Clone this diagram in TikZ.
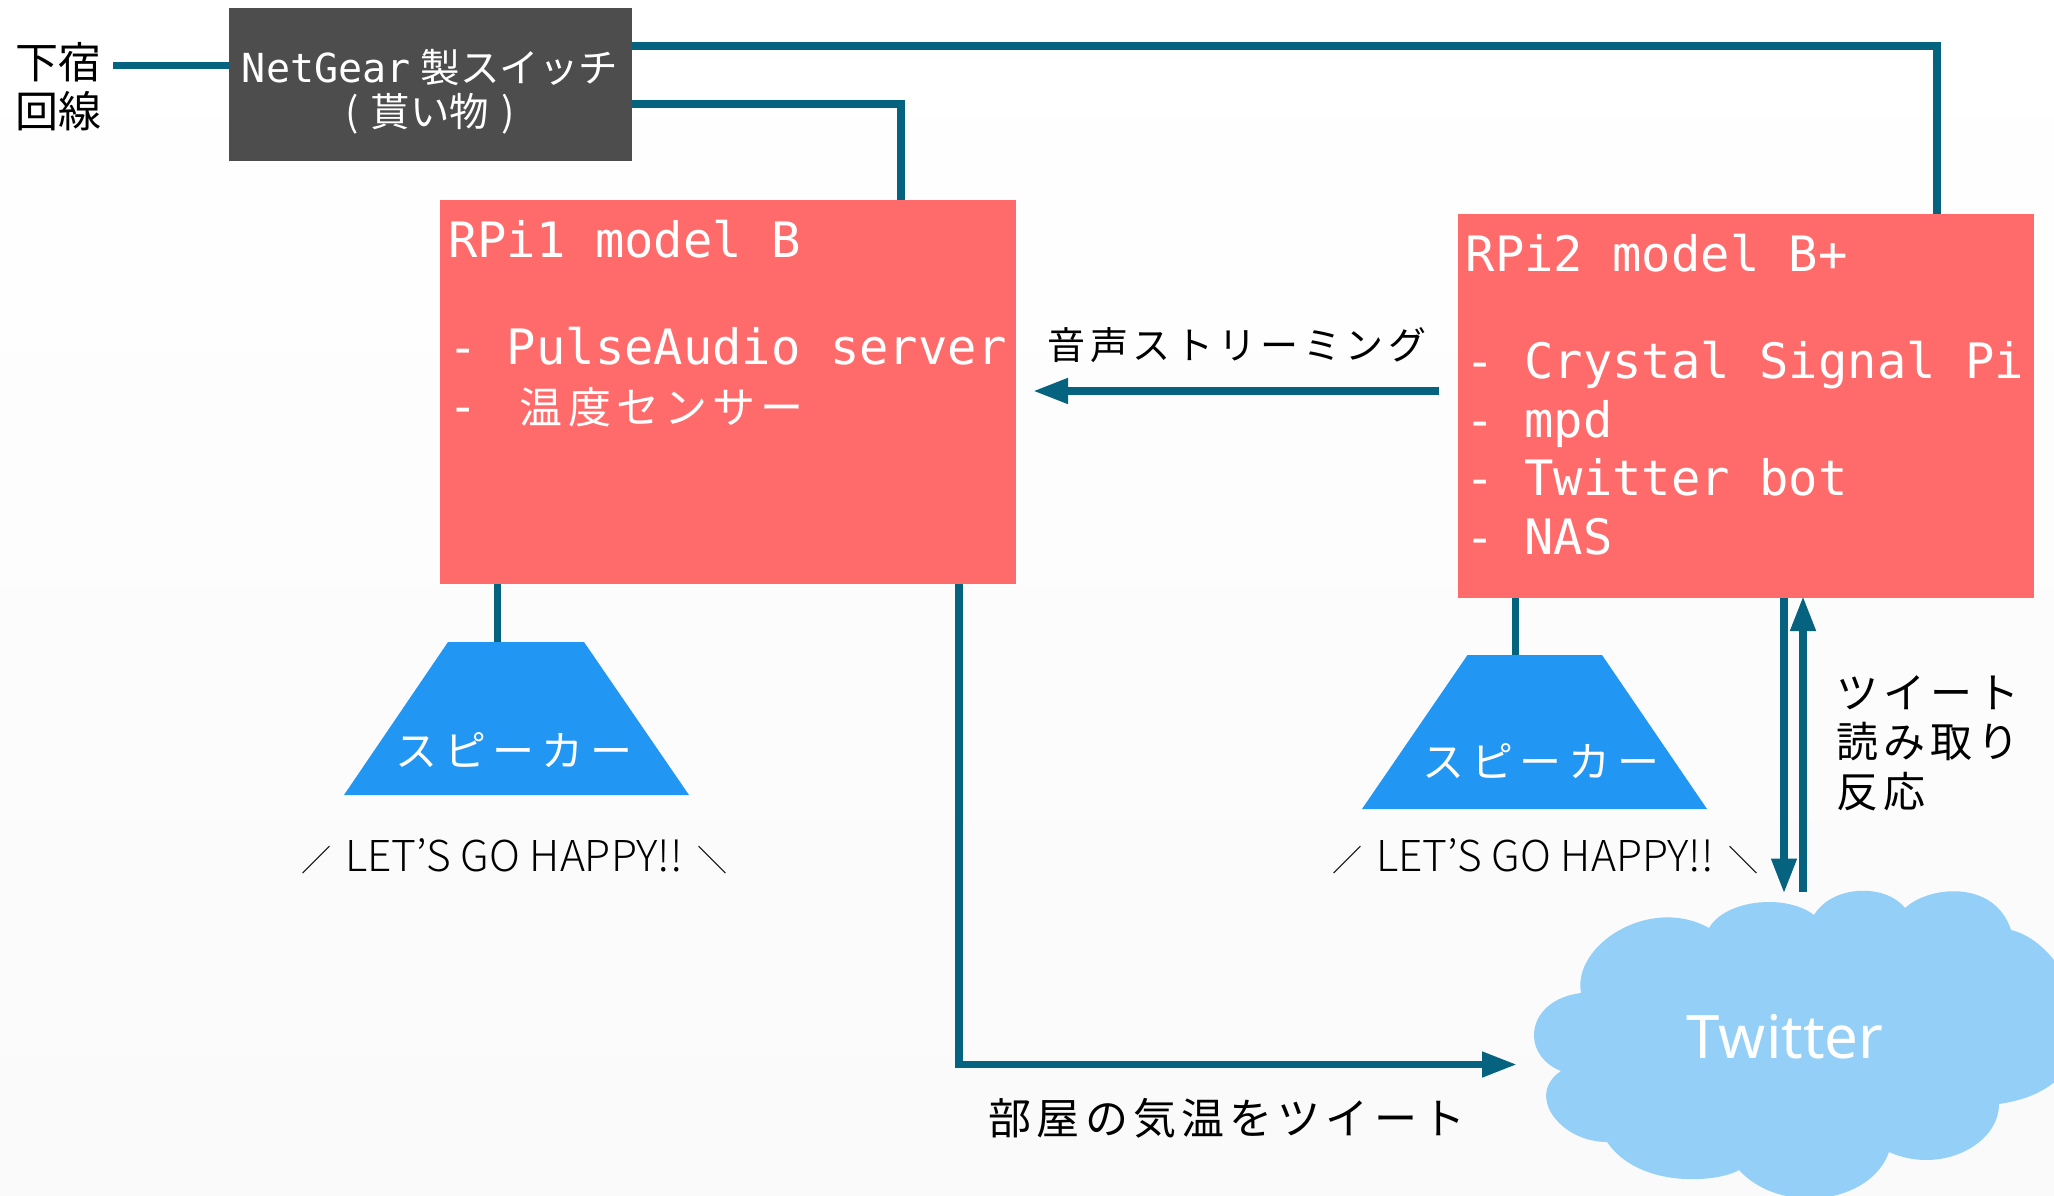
\documentclass[tikz,border=0pt]{standalone}
\usepackage{fontspec}
\usetikzlibrary{arrows.meta}
\setmainfont{DejaVu Sans Mono}
\newfontfamily\cjk{Noto Sans CJK JP}
\newfontfamily\cjklt{Noto Sans CJK JP Light}
\newfontfamily\cjkls[LetterSpace=12]{Noto Sans CJK JP}
\newfontfamily\cjklsw[LetterSpace=16]{Noto Sans CJK JP}
\newfontfamily\tw{Noto Sans}
\definecolor{wire}{HTML}{05637F}
\definecolor{rpired}{HTML}{FF6B6B}
\definecolor{swgrey}{HTML}{4D4D4D}
\definecolor{spkblue}{HTML}{2196F3}
\definecolor{cloudblue}{HTML}{93CFF7}
\tikzset{
  wireline/.style={draw=wire,line width=7.5pt},
  wirearrow/.style={wireline,shorten >=-2pt,-{Triangle[length=35pt,width=24pt]}},
  rpibox/.style={fill=rpired,minimum width=576pt,minimum height=384pt,inner sep=0pt,outer sep=0pt},
  rpitext/.style={anchor=north west,inner sep=0pt,align=left,text=white,font=\fontsize{48.8}{58.5}\selectfont},
  spkshape/.style={fill=spkblue},
  spktext/.style={text=white,inner sep=0pt,font=\fontsize{42}{48}\selectfont\cjklsw},
  slogan/.style={anchor=base,inner sep=0pt,text=black,font=\fontsize{42.5}{50}\selectfont\cjklt},
  blacklabel/.style={text=black,inner sep=0pt,font=\fontsize{40}{48}\selectfont\cjkls},
}
\newcommand{\sloganslash}[1]{{\fontsize{30}{30}\selectfont #1}}
\begin{document}
\begin{tikzpicture}[x=1pt,y=-1pt]
\useasboundingbox (0,0) rectangle (2054,1196);
\shade[top color=white,bottom color=white!98!black] (0,0) rectangle (2054,1196);

% cloud
\fill[cloudblue] (1581,993)
  .. controls (1572,945) and (1650,895) .. (1709,928)
  .. controls (1725,900) and (1785,893) .. (1814,915)
  .. controls (1832,885) and (1885,883) .. (1905,908)
  .. controls (1930,885) and (1995,880) .. (2011,930)
  .. controls (2075,945) and (2130,1085) .. (1999,1104)
  .. controls (1999,1145) and (1940,1175) .. (1889,1152)
  .. controls (1870,1205) and (1780,1215) .. (1739,1170)
  .. controls (1720,1182) and (1640,1190) .. (1607,1142)
  .. controls (1560,1142) and (1525,1095) .. (1561,1071)
  .. controls (1520,1055) and (1525,1000) .. (1581,993) -- cycle;
\node[anchor=base,text=white,inner sep=0pt,font=\fontsize{60}{60}\selectfont\tw] (twitter) at (1785,1058) {Twitter};
\coordinate (cloudW) at (1515,1064.5);
\coordinate (cloudA) at (1784,891.5);
\coordinate (cloudB) at (1803,891.5);
\coordinate (inet) at (113,65.5);

% boxes
\node[fill=swgrey,minimum width=403pt,minimum height=153pt,inner sep=0pt,outer sep=0pt] (sw) at (430.5,84.5) {};
\node[inner sep=0pt,text=white,align=center,font=\fontsize{40}{44}\selectfont] (swt) at (430,91.5)
  {NetGear\hspace{10pt}{\cjk\fontsize{39.5}{44}\selectfont 製スイッチ}\\{\cjk\fontsize{39.5}{44}\selectfont (\hspace{12pt}貰い物\hspace{12pt})}};
\node[rpibox] (r1) at (728,392) {};
\node[rpibox] (r2) at (1746,406) {};
\node[rpitext] (r1t) at (448,220) {RPi1 model B\\[48.5pt]- PulseAudio server\\- \hspace{13pt}{\cjkls\fontsize{43}{58}\selectfont 温度センサー}};
\node[rpitext] (r2t) at (1465.5,234) {RPi2 model B+\\[48.5pt]- Crystal Signal Pi\\- mpd\\- Twitter bot\\- NAS};

% speakers
\fill[spkshape] (448,642) coordinate (s1top) -- (584,642) -- (689,795) -- (344,795) -- cycle;
\fill[spkshape] (1467.5,655) coordinate (s2top) -- (1602,655) -- (1707,809) -- (1362,809) -- cycle;
\node[spktext] (s1t) at (514,750) {スピーカー};
\node[spktext] (s2t) at (1541,761) {スピーカー};
\node[slogan] (s1q) at (514,871) {\sloganslash{／}\hspace{14pt}LET’S GO HAPPY!!\hspace{14pt}\sloganslash{＼}};
\node[slogan] (s2q) at (1545,871) {\sloganslash{／}\hspace{14pt}LET’S GO HAPPY!!\hspace{14pt}\sloganslash{＼}};

% labels
\node[blacklabel,align=left,font=\fontsize{43}{49}\selectfont\cjk] (geshuku) at (59,87) {下宿\\回線};
\node[blacklabel,font=\fontsize{38}{44}\selectfont\cjkls] (stream) at (1237,345) {音声ストリーミング};
\node[blacklabel,font=\fontsize{43}{48}\selectfont\cjkls] (room) at (1227,1118) {部屋の気温をツイート};
\node[blacklabel,align=left,anchor=north west,font=\fontsize{42}{49.5}\selectfont\cjkls] (read) at (1836,675) {ツイート\\読み取り\\反応};

% connectors
\draw[wireline] (inet) -- (sw.west |- inet);
\draw[wireline] (sw.east |- 0,46) -- (1937,46) -- (1937,0 |- r2.north);
\draw[wireline] (sw.east |- 0,104) -- (901,104) -- (901,0 |- r1.north);
\draw[wireline] (497.5,0 |- r1.south) -- (497.5,0 |- s1top);
\draw[wireline] (1515.5,0 |- r2.south) -- (1515.5,0 |- s2top);
\draw[wirearrow] (959,0 |- r1.south) -- (959,0 |- cloudW) -- (cloudW);
\draw[wirearrow] (1439,391) -- (1035,391);
\draw[wirearrow] (cloudA |- r2.south) -- (cloudA);
\draw[wirearrow] (cloudB) -- (cloudB |- r2.south);
\end{tikzpicture}
\end{document}
